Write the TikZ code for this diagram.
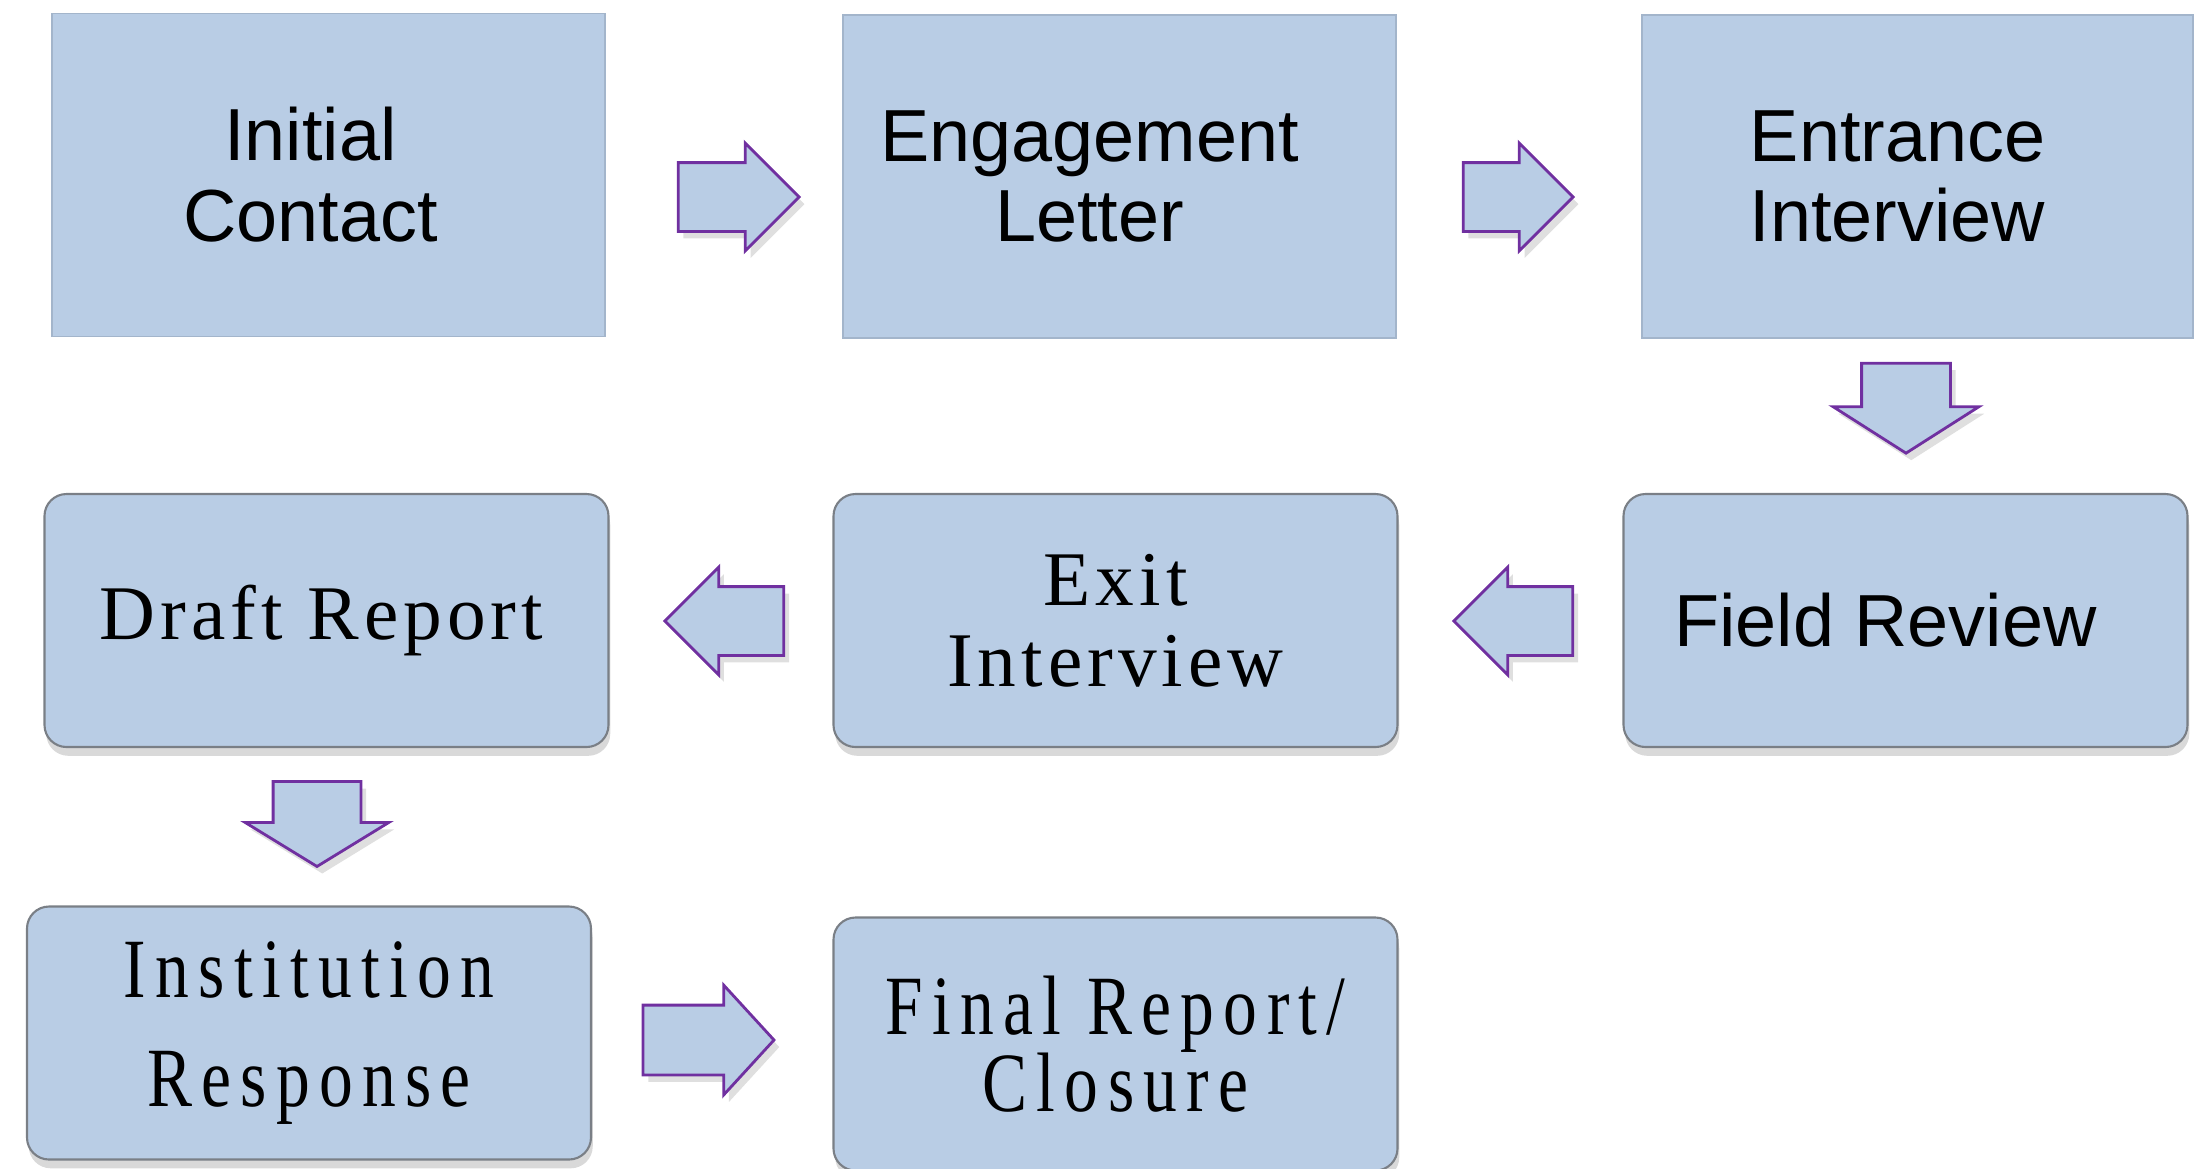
\documentclass[tikz,border=0pt]{standalone}
\usepackage{fontspec}
\usetikzlibrary{shapes.arrows,shadows}

\newfontfamily\boxsans{Liberation Sans}
\newfontfamily\boxserif[LetterSpace=6.5]{Liberation Serif}
\newfontfamily\boxnarrow[FakeStretch=0.8,LetterSpace=11]{Liberation Serif}

\definecolor{boxfill}{HTML}{B9CDE5}
\definecolor{arrowline}{HTML}{7030A0}
\definecolor{flatline}{HTML}{A3B5CB}
\definecolor{roundline}{HTML}{7A7F86}

\begin{document}
\begin{tikzpicture}[
    flatbox/.style={draw=flatline,fill=boxfill,line width=0.5pt,minimum width=5.53cm,minimum height=3.23cm,align=center,inner sep=0pt,
      font=\boxsans\fontsize{21}{23}\selectfont},
    roundbox/.style={draw=roundline,fill=boxfill,line width=0.6pt,rounded corners=0.22cm,minimum width=5.64cm,minimum height=2.53cm,align=center,inner sep=0pt,
      drop shadow={shadow xshift=0.5pt,shadow yshift=-2.5pt,opacity=0.3}},
    blockarrow/.style={single arrow,draw=arrowline,fill=boxfill,line width=0.8pt,inner xsep=0pt,
      drop shadow={shadow xshift=1.5pt,shadow yshift=-2pt,opacity=0.25}}
  ]
  \useasboundingbox (0,0) rectangle (22.02,-11.68);

  % first row
  \node[flatbox] (init) at (3.285,-1.75) {\hspace*{-0.36cm}Initial\\\hspace*{-0.36cm}Contact};
  \node[flatbox] (engage) at (11.195,-1.765) {\hspace*{-0.6cm}Engagement\\\hspace*{-0.6cm}Letter};
  \node[flatbox,minimum width=5.51cm] (entrance) at (19.175,-1.765) {\hspace*{-0.4cm}Entrance\\\hspace*{-0.4cm}Interview};

  % second row
  \node[roundbox,font=\boxsans\fontsize{21}{23}\selectfont] (field) at (19.055,-6.205) {\hspace*{-0.4cm}Field Review};
  \node[roundbox,font=\boxserif\fontsize{22}{23}\selectfont] (exit) at (11.155,-6.205) {Exit\\Interview};
  \node[roundbox,font=\boxserif\fontsize{22}{23}\selectfont] (draft) at (3.265,-6.205) {\hspace*{-0.1cm}Draft Report};

  % third row
  \node[roundbox,font=\boxnarrow\fontsize{24}{31}\selectfont] (inst) at (3.09,-10.33) {\raisebox{-0.07cm}{Institution}\\\raisebox{-0.07cm}{Response}};
  \node[roundbox,font=\boxnarrow\fontsize{24}{22}\selectfont] (final) at (11.155,-10.44) {Final Report/\\Closure};

  % block arrows
  \node[blockarrow,minimum height=1.21cm,inner ysep=0.33cm,single arrow head extend=0.195cm] (a1) at (7.215,-1.97) {};
  \node[blockarrow,minimum height=1.10cm,inner ysep=0.33cm,single arrow head extend=0.195cm] (a2) at (15.01,-1.97) {};
  \node[blockarrow,rotate=270,minimum height=0.90cm,inner ysep=0.43cm,single arrow head extend=0.285cm,single arrow tip angle=115] (a3) at (19.06,-3.94) {};
  \node[blockarrow,rotate=180,minimum height=1.19cm,inner ysep=0.33cm,single arrow head extend=0.195cm] (a4) at (15.305,-6.21) {};
  \node[blockarrow,rotate=180,minimum height=1.19cm,inner ysep=0.33cm,single arrow head extend=0.195cm] (a5) at (7.415,-6.21) {};
  \node[blockarrow,rotate=270,minimum height=0.85cm,inner ysep=0.425cm,single arrow head extend=0.28cm,single arrow tip angle=117] (a6) at (3.17,-8.105) {};
  \node[blockarrow,minimum height=1.31cm,inner ysep=0.335cm,single arrow head extend=0.20cm,single arrow tip angle=95] (a7) at (6.925,-10.40) {};

\end{tikzpicture}
\end{document}
